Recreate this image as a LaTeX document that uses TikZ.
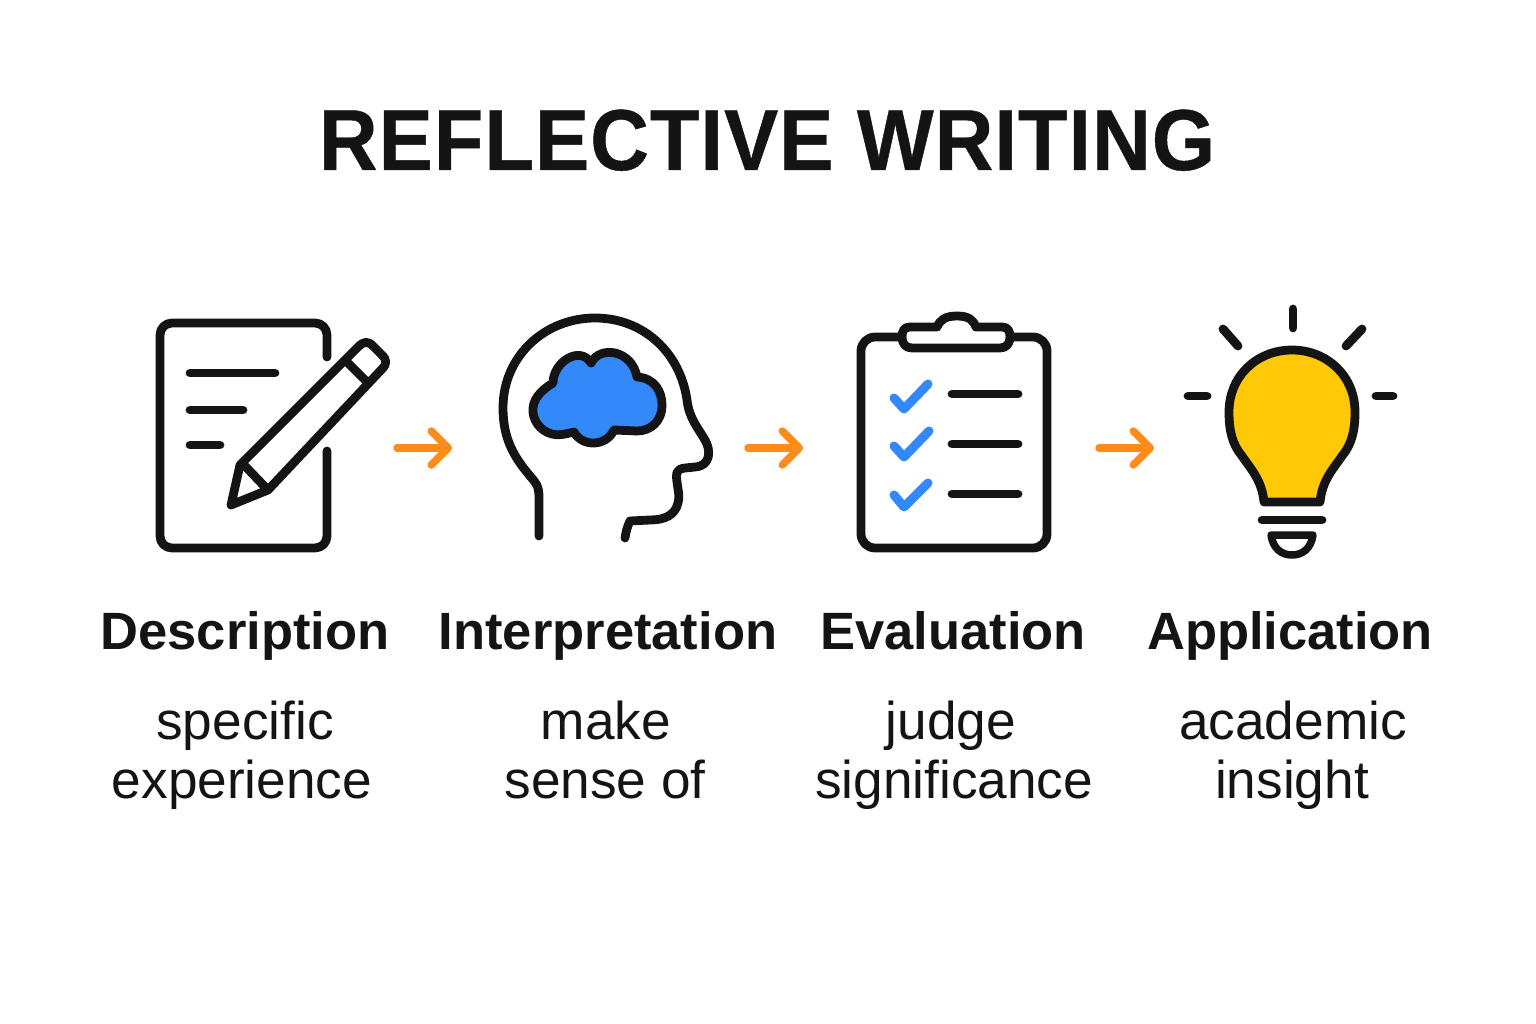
\documentclass[tikz,border=0pt]{standalone}
\usepackage{fontspec}
\setmainfont{Liberation Sans}
\newfontfamily\titlefont[FakeStretch=0.94,FakeBold=0.5,LetterSpace=1.1]{Liberation Sans Bold}
\usetikzlibrary{arrows.meta}
\definecolor{inkblack}{HTML}{141414}
\definecolor{arrorange}{HTML}{FF8C1A}
\definecolor{brainblue}{HTML}{3388FA}
\definecolor{bulbyellow}{HTML}{FFC908}
\tikzset{
  icon/.style={draw=inkblack, line width=8.8pt, line cap=round, line join=round},
  flowarrow/.style={draw=arrorange, line width=7.5pt, line cap=round,
    -{Straight Barb[length=17pt,width=34pt,line width=7.5pt,round]}},
  tick/.style={draw=brainblue, line width=9pt, line cap=round, line join=round},
  titletext/.style={anchor=base, text=inkblack, font=\fontsize{86.5}{90}\titlefont},
  headtext/.style={anchor=base, text=inkblack, font=\fontsize{52.5}{60}\selectfont\bfseries},
  subtext/.style={anchor=base, text=inkblack, font=\fontsize{53.2}{60}\selectfont},
}
\begin{document}
\begin{tikzpicture}[x=1pt,y=-1pt]
\useasboundingbox (0,0) rectangle (1536,1024);
\node[titletext] (title) at (767,170) {REFLECTIVE WRITING};
% sheet and pencil
\draw[icon] (327,357) -- (327,335) arc[start angle=0,end angle=-90,radius=12] -- (172,323)
  arc[start angle=-90,end angle=-180,radius=12] -- (160,536)
  arc[start angle=180,end angle=90,radius=12] -- (315,548)
  arc[start angle=90,end angle=0,radius=12] -- (327,451);
\foreach \x/\y in {275/373,243/410,220/445} {
\draw[icon] (190,\y) -- (\x,\y);
}
\draw[icon] (231,505) -- (240,465) -- (358,347) .. controls (364,341) and (368,341) .. (373,346)
  -- (382,355) .. controls (387,360) and (387,364) .. (382,369) -- (268,490) -- cycle;
\draw[icon] (347,362) -- (368,383);
\draw[icon] (245,466) -- (266,488);
% head and brain
\draw[icon] (539,536) -- (539,497) .. controls (539,485) and (535,482) .. (530,476)
  .. controls (515,458) and (503,440) .. (503,408) .. controls (503,356) and (545,318) .. (595,318)
  .. controls (643,318) and (680,352) .. (687,400) .. controls (689,418) and (698,428) .. (705,440)
  .. controls (711,450) and (711,466) .. (695,467) -- (685,468) .. controls (675,469) and (676,475) .. (677,482)
  .. controls (678,490) and (680,497) .. (678,503) .. controls (675,515) and (665,520) .. (650,520)
  -- (630,521) .. controls (627,527) and (626,532) .. (625,538);
\draw[icon, fill=brainblue] (553,383) .. controls (553,362) and (580,345) .. (591,363)
  .. controls (600,345) and (632,350) .. (637,377) .. controls (655,378) and (662,392) .. (662,405)
  .. controls (662,422) and (650,431) .. (637,431) -- (614,430) .. controls (606,447) and (582,447) .. (574,432)
  .. controls (565,434) and (558,436) .. (552,434) .. controls (540,431) and (532,420) .. (533,408)
  .. controls (534,396) and (545,388) .. (553,383) -- cycle;
% clipboard
\draw[icon] (875,337) -- (1033,337) arc[start angle=-90,end angle=0,radius=14] -- (1047,534)
  arc[start angle=0,end angle=90,radius=14] -- (875,548)
  arc[start angle=90,end angle=180,radius=14] -- (861,351)
  arc[start angle=180,end angle=270,radius=14] -- cycle;
\draw[icon, fill=white] (910,327) -- (937,327) .. controls (940,320) and (945,316) .. (957,316)
  .. controls (969,316) and (973,320) .. (976,327) -- (1002,327) .. controls (1008,327) and (1010,331) .. (1010,337)
  .. controls (1010,344) and (1006,348) .. (1000,348) -- (912,348) .. controls (906,348) and (902,344) .. (902,337)
  .. controls (902,331) and (904,327) .. (910,327) -- cycle;
\foreach \y in {394,444,494} {
\draw[icon] (952,\y) -- (1018,\y);
}
\draw[tick] (894,398) -- (904,409) -- (928,384);
\draw[tick] (894,446) -- (904,457) -- (929,431);
\draw[tick] (894,495) -- (904,507) -- (928,483);
% bulb
\draw[icon, fill=bulbyellow] (1264,502) .. controls (1262,480) and (1250,468) .. (1242,456)
  .. controls (1232,444) and (1229,430) .. (1229,412) .. controls (1229,376) and (1257,350) .. (1292,350)
  .. controls (1327,350) and (1355,376) .. (1355,412) .. controls (1355,430) and (1352,444) .. (1342,456)
  .. controls (1334,468) and (1322,480) .. (1320,502) -- cycle;
\foreach \xa/\ya/\xb/\yb in {1293/309/1293/328,1223/329/1238/346,1362/329/1346/346,1188/396/1207/396,1376/396/1393/396} {
\draw[icon] (\xa,\ya) -- (\xb,\yb);
}
\draw[icon] (1262,520) -- (1322,520);
\draw[icon, line width=7.5pt] (1271,535) -- (1313,535) .. controls (1311,549) and (1302,555) .. (1292,555)
  .. controls (1282,555) and (1273,549) .. (1271,535) -- cycle;
% arrows between the steps
\foreach \n/\xa/\xb in {a/397/452,b/748/803,c/1099/1154} {
\coordinate (\n from) at (\xa,448);
\coordinate (\n to) at (\xb,448);
\draw[flowarrow] (\n from) -- (\n to);
}
% labels
\node[headtext] (desc) at (245,649) {Description};
\node[headtext] (interp) at (608,649) {Interpretation};
\node[headtext] (eval) at (953,649) {Evaluation};
\node[headtext] (appl) at (1290,649) {Application};
\node[subtext] (desca) at (245,739) {specific};
\node[subtext] (descb) at (242,798) {experience};
\node[subtext] (interpa) at (606,739) {make};
\node[subtext] (interpb) at (605,798) {sense of};
\node[subtext] (evala) at (951,739) {judge};
\node[subtext] (evalb) at (954,798) {significance};
\node[subtext] (appla) at (1293,739) {academic};
\node[subtext] (applb) at (1292,798) {insight};
\end{tikzpicture}
\end{document}
